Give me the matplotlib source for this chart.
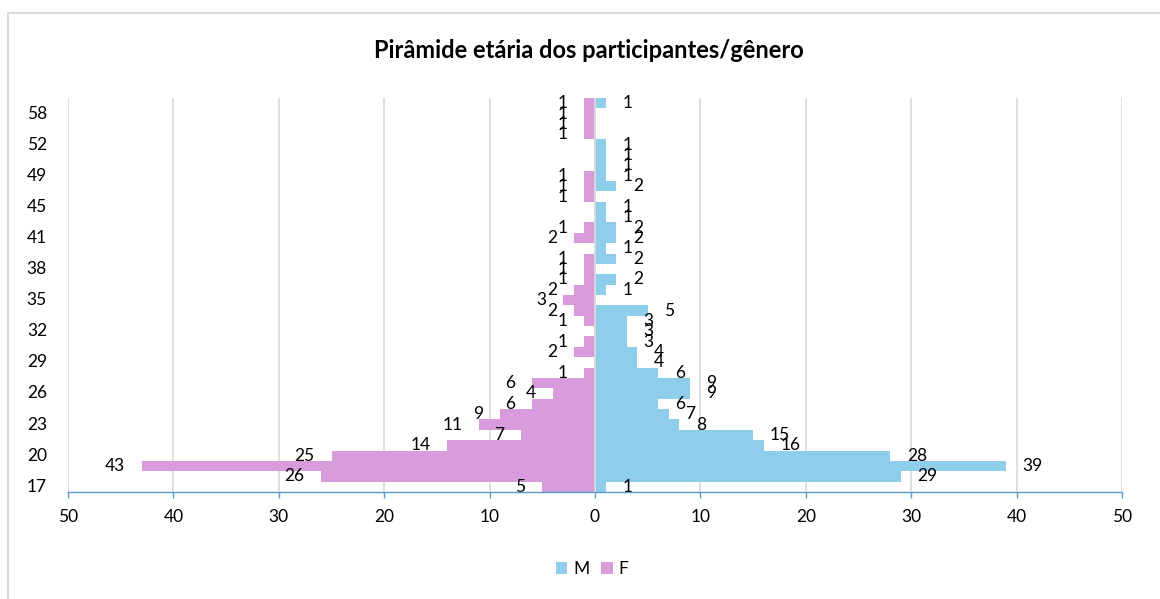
import matplotlib
matplotlib.use("Agg")
import matplotlib.pyplot as plt
import matplotlib.transforms as mtransforms
from matplotlib.patches import Patch
from matplotlib.lines import Line2D

# Age categories (bottom to top); only every 3rd is labelled in the chart
ages = [17, 18, 19, 20, 21, 22, 23, 24, 25, 26, 27, 28, 29, 30, 31, 32, 33, 34, 35,
        36, 37, 38, 39, 40, 41, 42, 43, 45, 46, 47, 49, 50, 51, 52, 53, 55, 58, 60]
male = [1, 29, 39, 28, 16, 15, 8, 7, 6, 9, 9, 6, 4, 4, 3, 3, 3, 5, 0, 1,
        2, 0, 2, 1, 2, 2, 1, 1, 0, 2, 1, 1, 1, 1, 0, 0, 0, 1]
female = [5, 26, 43, 25, 14, 7, 11, 9, 6, 4, 6, 1, 0, 2, 1, 0, 1, 2, 3, 2,
          1, 1, 1, 0, 2, 1, 0, 0, 1, 1, 1, 0, 0, 0, 1, 1, 1, 1]
x_ticks = [-50, -40, -30, -20, -10, 0, 10, 20, 30, 40, 50]
series_names = ["M", "F"]
title = "Pirâmide etária dos participantes/gênero"

BLUE = "#8ECEEB"
PINK = "#D89BDC"
AXBLUE = "#5B9BD5"
GRID = "#D9D9D9"
FONT = ["Lato", "DejaVu Sans"]
FS = 12.5

plt.rcParams["font.family"] = FONT

W, H = 1160, 599
fig = plt.figure(figsize=(W / 100, H / 100), dpi=100)
ax = fig.add_axes([68 / W, 1 - 492 / H, (1122 - 68) / W, (492 - 98) / H])

ypos = list(range(len(ages)))
ax.barh(ypos, male, height=1.0, color=BLUE, linewidth=0, zorder=2)
ax.barh(ypos, [-v for v in female], height=1.0, color=PINK, linewidth=0, zorder=2)

# data labels
for y, v in zip(ypos, male):
    if v:
        ax.annotate(str(v), (v, y), xytext=(12, 0), textcoords="offset points",
                    ha="left", va="center", fontsize=FS, color="black", zorder=4)
for y, v in zip(ypos, female):
    if v:
        ax.annotate(str(v), (-v, y), xytext=(-12, 0), textcoords="offset points",
                    ha="right", va="center", fontsize=FS, color="black", zorder=4)

ax.set_xlim(-50, 50)
ax.set_ylim(-0.5, len(ages) - 0.5)
ax.set_xticks(x_ticks)
ax.set_xticklabels([str(abs(t)) for t in x_ticks], fontsize=FS)
ax.set_yticks(ypos[::3])
ax.set_yticklabels([])

# category labels (every 3rd), right-aligned left of the plot area
blend = mtransforms.blended_transform_factory(fig.transFigure, ax.transData)
for y, a in zip(ypos[::3], ages[::3]):
    ax.text(47 / W, y, str(a), transform=blend, ha="right", va="center",
            fontsize=FS, color="black", clip_on=False)

ax.grid(axis="x", color=GRID, linewidth=1.2, zorder=0)
ax.grid(axis="y", visible=False)
ax.axvline(0, color=GRID, linewidth=1.3, zorder=3)

for s in ["top", "right", "left"]:
    ax.spines[s].set_visible(False)
ax.spines["bottom"].set_color(AXBLUE)
ax.spines["bottom"].set_linewidth(1.0)
ax.spines["bottom"].set_zorder(5)
ax.tick_params(axis="x", colors=AXBLUE, labelcolor="black", length=4, width=1.0, pad=8)
ax.tick_params(axis="y", length=0)

fig.text(589 / W, 1 - 50 / H, title, ha="center", va="center", fontsize=17,
         fontweight="bold")

handles = [Patch(facecolor=BLUE, edgecolor="none", label=series_names[0]),
           Patch(facecolor=PINK, edgecolor="none", label=series_names[1])]
fig.legend(handles=handles, loc="center", bbox_to_anchor=(592 / W, 1 - 569 / H), ncol=2,
           frameon=False, fontsize=FS, handlelength=0.65, handleheight=0.65,
           handletextpad=0.35, columnspacing=0.7)

# chart border (top and left edges visible)
fig.add_artist(Line2D([8 / W, 1], [1 - 13 / H, 1 - 13 / H], color=GRID, linewidth=1.5,
                      transform=fig.transFigure))
fig.add_artist(Line2D([8 / W, 8 / W], [0, 1 - 13 / H], color=GRID, linewidth=1.5,
                      transform=fig.transFigure))

fig.savefig("out.png", dpi=100)
